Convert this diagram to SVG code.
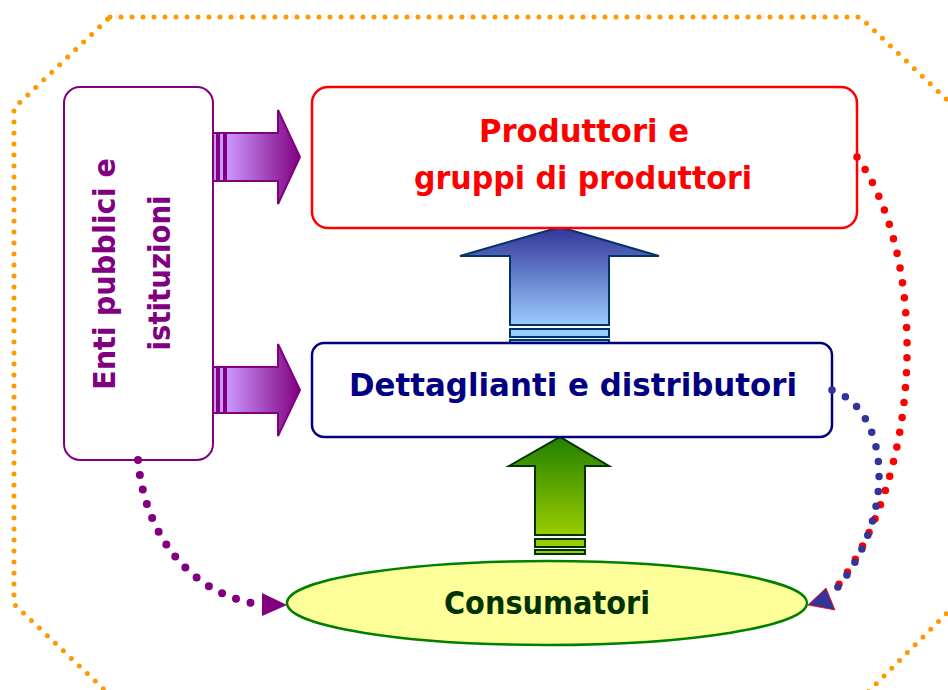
<svg xmlns="http://www.w3.org/2000/svg" width="948" height="690" viewBox="0 0 948 690">
  <defs>
    <linearGradient id="gPurple" x1="0" y1="0" x2="1" y2="0">
      <stop offset="0" stop-color="#cc99ff"/>
      <stop offset="1" stop-color="#800080"/>
    </linearGradient>
    <linearGradient id="gBlue" x1="0" y1="0" x2="0" y2="1">
      <stop offset="0" stop-color="#333399"/>
      <stop offset="1" stop-color="#99ccff"/>
    </linearGradient>
    <linearGradient id="gGreen" x1="0" y1="0" x2="0" y2="1">
      <stop offset="0" stop-color="#228000"/>
      <stop offset="1" stop-color="#99cc00"/>
    </linearGradient>
  </defs>
  <style>
    .lbl { font-family: "DejaVu Sans", "Liberation Sans", sans-serif; font-weight: bold; font-size: 32px; text-anchor: middle; }
    .vlbl { font-size: 30px; }
    .dots { fill: none; stroke-linecap: round; }
    .box { fill: #ffffff; }
  </style>
  <rect width="948" height="690" fill="#ffffff"/>

  <!-- dotted octagonal frame -->
  <path class="dots" d="M110,17 L860,17 L962,114 L962,598 L864,696 L111,696 L14,604 L14,108 Z" stroke="#ff9900" stroke-width="5" stroke-dasharray="0 11"/>

  <!-- block arrows -->
  <g id="arrows">
    <g stroke="#800080" stroke-width="2" fill="url(#gPurple)">
      <rect x="213" y="133" width="4" height="48" fill="#cc99ff"/>
      <rect x="219" y="133" width="5" height="48" fill="#cc99ff"/>
      <path d="M226,133 L278,133 L278,110 L300,157 L278,204 L278,181 L226,181 Z"/>
      <rect x="213" y="367" width="4" height="46" fill="#cc99ff"/>
      <rect x="219" y="367" width="5" height="46" fill="#cc99ff"/>
      <path d="M226,367 L278,367 L278,344 L300,390 L278,436 L278,413 L226,413 Z"/>
    </g>
    <g stroke="#003366" stroke-width="2">
      <path d="M510,325 L510,256 L460,256 L560,227 L659,256 L609,256 L609,325 Z" fill="url(#gBlue)"/>
      <rect x="510" y="329" width="99" height="8" fill="#99ccff"/>
      <rect x="510" y="340" width="99" height="4" fill="#99ccff"/>
    </g>
    <g stroke="#003300" stroke-width="2">
      <path d="M535,535 L535,466 L509,466 L560,437 L609,466 L585,466 L585,535 Z" fill="url(#gGreen)"/>
      <rect x="535" y="539" width="50" height="8" fill="#99cc00"/>
      <rect x="535" y="550" width="50" height="4" fill="#99cc00"/>
    </g>
  </g>

  <!-- nodes -->
  <g id="enti">
    <rect class="box" x="64" y="87" width="149" height="373" rx="16" stroke="#800080" stroke-width="2"/>
    <text class="lbl vlbl" fill="#800080" transform="translate(115,274) rotate(-90)" textLength="232" lengthAdjust="spacingAndGlyphs">Enti pubblici e</text>
    <text class="lbl vlbl" fill="#800080" transform="translate(170,273) rotate(-90)" textLength="155" lengthAdjust="spacingAndGlyphs">istituzioni</text>
  </g>
  <g id="produttori">
    <rect class="box" x="312" y="87" width="545" height="141" rx="16" stroke="#ff0000" stroke-width="2.5"/>
    <text class="lbl" fill="#ff0000" x="584" y="142" textLength="210" lengthAdjust="spacingAndGlyphs">Produttori e</text>
    <text class="lbl" fill="#ff0000" x="583" y="189" textLength="338" lengthAdjust="spacingAndGlyphs">gruppi di produttori</text>
  </g>
  <g id="dettaglianti">
    <rect class="box" x="312" y="343" width="520" height="94" rx="12" stroke="#000080" stroke-width="2.5"/>
    <text class="lbl" fill="#000080" x="573" y="396" textLength="448" lengthAdjust="spacingAndGlyphs">Dettaglianti e distributori</text>
  </g>
  <g id="consumatori">
    <ellipse cx="547" cy="603" rx="260" ry="42" fill="#ffff99" stroke="#008000" stroke-width="2.5"/>
    <text class="lbl" fill="#003300" x="547" y="614" textLength="206" lengthAdjust="spacingAndGlyphs">Consumatori</text>
  </g>

  <!-- dotted connectors -->
  <g id="connectors">
    <path class="dots" d="M138,460 C145,540 195,595 258,604" stroke="#800080" stroke-width="8" stroke-dasharray="0 15"/>
    <polygon points="262,593 287,605 262,616" fill="#800080"/>
    <path class="dots" d="M857,157 C930,260 925,480 830,596" stroke="#ff0000" stroke-width="7.5" stroke-dasharray="0 15"/>
    <path class="dots" d="M832,390 C890,410 900,520 830,596" stroke="#333399" stroke-width="7.5" stroke-dasharray="0 15"/>
    <polygon points="808,605 826,588 835,610" fill="#333399" stroke="#ff0000" stroke-width="0.8"/>
  </g>
</svg>
